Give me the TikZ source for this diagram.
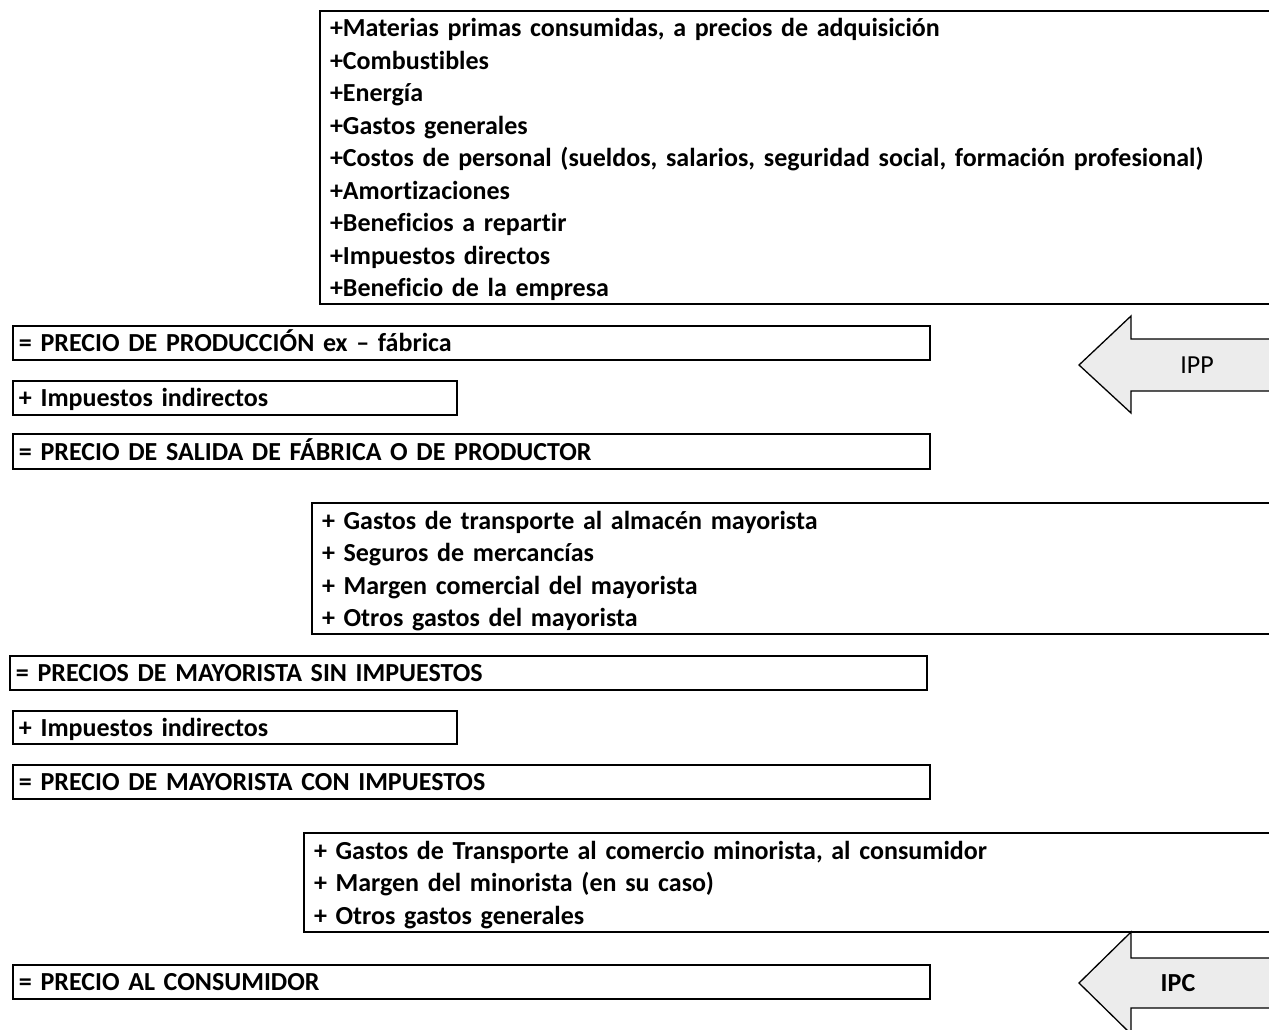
\documentclass[tikz,border=0pt]{standalone}
\usepackage{fontspec}
\setmainfont[Ligatures=NoCommon, WordSpace=0.8]{Carlito}
\begin{document}
\begin{tikzpicture}[x=1pt,y=1pt,
  pbox/.style={draw, line width=2pt, anchor=north west, inner ysep=0pt, align=left,
    font=\fontsize{26}{32.5}\selectfont\bfseries},
  onerow/.style={text height=19pt, text depth=2pt},
  arrowshape/.style={draw, line width=1.3pt, fill=gray!15, line join=miter},
  arrowtext/.style={font=\fontsize{26}{32.5}\selectfont}]
\useasboundingbox (0,0) rectangle (1269,-1030);
\clip (0,0) rectangle (1269,-1030);
% top list box (open to the right)
\node[pbox, inner xsep=10pt, text width=951pt, minimum height=293pt] (costs) at (319,-10)
 {\rule{0pt}{23pt}+Materias primas consumidas, a precios de adquisición\\
  +Combustibles\\
  +Energía\\
  +Gastos generales\\
  +Costos de personal (sueldos, salarios, seguridad social, formación profesional)\\
  +Amortizaciones\\
  +Beneficios a repartir\\
  +Impuestos directos\\
  +Beneficio de la empresa};
\node[pbox, onerow, inner xsep=6pt, text width=905pt, minimum height=34pt] (prod) at (12,-325)
 {= PRECIO DE PRODUCCIÓN ex – fábrica};
\node[pbox, onerow, inner xsep=6pt, text width=432pt, minimum height=34pt] (imp1) at (12,-380)
 {+ Impuestos indirectos};
\node[pbox, onerow, inner xsep=6pt, text width=905pt, minimum height=35pt] (salida) at (12,-433)
 {= PRECIO DE SALIDA DE FÁBRICA O DE PRODUCTOR};
% wholesale box (open to the right)
\node[pbox, inner xsep=10pt, text width=959pt, minimum height=131pt] (whole) at (311,-502)
 {\rule{0pt}{23pt}+ Gastos de transporte al almacén mayorista\\
  + Seguros de mercancías\\
  + Margen comercial del mayorista\\
  + Otros gastos del mayorista};
\node[pbox, onerow, inner xsep=6pt, text width=905pt, minimum height=34pt] (sin) at (9,-655)
 {= PRECIOS DE MAYORISTA SIN IMPUESTOS};
\node[pbox, onerow, inner xsep=6pt, text width=432pt, minimum height=33pt] (imp2) at (12,-710)
 {+ Impuestos indirectos};
\node[pbox, onerow, inner xsep=6pt, text width=905pt, minimum height=34pt] (con) at (12,-764)
 {= PRECIO DE MAYORISTA CON IMPUESTOS};
% retail box (open to the right)
\node[pbox, inner xsep=10pt, text width=967pt, minimum height=99pt] (retail) at (303,-832)
 {\rule{0pt}{23pt}+ Gastos de Transporte al comercio minorista, al consumidor\\
  + Margen del minorista (en su caso)\\
  + Otros gastos generales};
\node[pbox, onerow, inner xsep=6pt, text width=905pt, minimum height=34pt] (consum) at (12,-964)
 {= PRECIO AL CONSUMIDOR};
% IPP arrow
\draw[arrowshape] (1290,-339) -- (1131,-339) -- (1131,-316) -- (1079,-365)
  -- (1131,-413) -- (1131,-391) -- (1290,-391) -- cycle;
\node[arrowtext] (ipp) at (1197,-365) {IPP};
% IPC arrow
\draw[arrowshape] (1290,-958) -- (1131,-958) -- (1131,-932) -- (1079,-983)
  -- (1131,-1034) -- (1131,-1008) -- (1290,-1008) -- cycle;
\node[arrowtext, font=\fontsize{26}{32.5}\selectfont\bfseries] (ipc) at (1178,-983) {IPC};
\end{tikzpicture}
\end{document}
